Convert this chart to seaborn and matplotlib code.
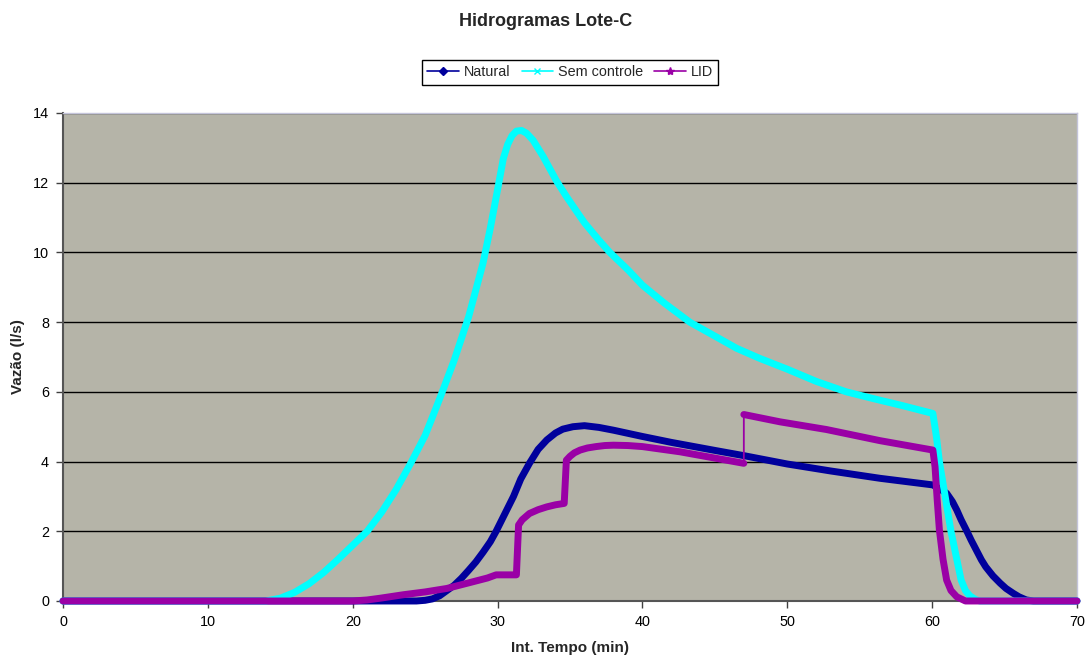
import matplotlib
matplotlib.use("Agg")
import numpy as np
import pandas as pd
import seaborn as sns
import matplotlib.pyplot as plt
from matplotlib.lines import Line2D

# ---------------- data ----------------
series_names = ["Natural", "Sem controle", "LID"]

natural_t = [0, 24.4, 25.0, 25.5, 26.0, 26.5, 27.0, 27.5, 28.0, 28.5, 29.0, 29.5, 29.9,
             30.5, 31.1, 31.6, 32.2, 32.8, 33.4, 34.0, 34.5, 35.2, 36.0, 37.0,
             38.0, 40.0, 42.0, 45.0, 47.0, 50.0, 53.0, 56.4, 60.05, 60.5, 61.0, 61.4,
             61.7, 62.0, 62.4, 62.7, 63.1, 63.4, 63.7, 64.2, 64.7, 65.1, 65.6, 66.0,
             66.5, 67.0, 70]
natural_q = [0, 0, 0.02, 0.06, 0.15, 0.3, 0.45, 0.65, 0.88, 1.12, 1.4, 1.7, 2.0,
             2.5, 3.0, 3.5, 3.95, 4.35, 4.62, 4.82, 4.93, 5.0, 5.03, 4.98,
             4.9, 4.72, 4.55, 4.32, 4.17, 3.93, 3.73, 3.52, 3.33, 3.22, 3.09, 2.85,
             2.61, 2.33, 2.0, 1.74, 1.42, 1.18, 0.98, 0.72, 0.51, 0.36, 0.22, 0.12,
             0.03, 0.0, 0]

sem_t = [0, 14.0, 15.0, 16.0, 17.0, 18.0, 19.0, 20.0, 21.0, 22.0, 23.0, 24.0, 25.0,
         26.0, 27.0, 28.0, 29.0, 29.5, 30.0, 30.4, 30.7, 31.0, 31.3, 31.65, 32.0,
         32.45, 33.15, 34.07, 34.76, 35.5, 36.0, 37.0, 37.75, 39.0, 40.0, 41.5,
         43.27, 45.0, 46.5, 48.1, 50.0, 52.0, 54.08, 56.0, 58.0, 60.05, 60.3, 60.5,
         60.9, 61.3, 61.7, 62.0, 62.3, 62.6, 63.0, 63.3, 70]
sem_q = [0, 0, 0.08, 0.25, 0.5, 0.82, 1.2, 1.6, 2.0, 2.55, 3.2, 3.95, 4.75,
         5.8, 6.9, 8.15, 9.7, 10.7, 11.8, 12.7, 13.1, 13.35, 13.48, 13.5, 13.42,
         13.22, 12.75, 12.05, 11.6, 11.15, 10.85, 10.35, 10.0, 9.5, 9.06, 8.55,
         8.0, 7.6, 7.25, 6.96, 6.65, 6.3, 6.0, 5.8, 5.6, 5.38, 4.7, 4.0,
         3.0, 2.0, 1.2, 0.6, 0.3, 0.15, 0.04, 0.0, 0]

lid1_t = [0, 20.0, 21.0, 21.9, 23.5, 25.0, 26.5, 28.0, 29.3, 29.9, 31.3, 31.45, 31.7,
          32.2, 32.8, 33.4, 34.0, 34.6, 34.75, 35.0, 35.3, 35.7, 36.2, 36.8, 37.4,
          38.0, 39.0, 40.0, 42.6, 45.0, 47.0]
lid1_q = [0, 0, 0.03, 0.08, 0.18, 0.26, 0.36, 0.52, 0.66, 0.75, 0.75, 2.18, 2.33,
          2.51, 2.62, 2.7, 2.76, 2.8, 4.04, 4.15, 4.25, 4.33, 4.39, 4.43, 4.46,
          4.47, 4.46, 4.43, 4.28, 4.1, 3.95]
lid2_t = [47.0, 49.5, 52.7, 56.4, 60.05, 60.2, 60.35, 60.5, 60.75, 61.0, 61.3, 61.7,
          62.3, 70]
lid2_q = [5.35, 5.14, 4.92, 4.6, 4.33, 3.85, 2.9, 2.04, 1.2, 0.6, 0.3, 0.12,
          0.0, 0]

colors = {"Natural": "#00009C", "Sem controle": "#00FFFF", "LID": "#9A00A6"}

x_ticks = [0, 10, 20, 30, 40, 50, 60, 70]
y_ticks = [0, 2, 4, 6, 8, 10, 12, 14]

# ---------------- build table ----------------
parts = [
    pd.DataFrame({"t": natural_t, "q": natural_q, "serie": "Natural", "trecho": "N1"}),
    pd.DataFrame({"t": sem_t, "q": sem_q, "serie": "Sem controle", "trecho": "S1"}),
    pd.DataFrame({"t": lid1_t, "q": lid1_q, "serie": "LID", "trecho": "L1"}),
    pd.DataFrame({"t": lid2_t, "q": lid2_q, "serie": "LID", "trecho": "L2"}),
]
df = pd.concat(parts, ignore_index=True)

# ---------------- style ----------------
sns.set_style("white")
plt.rcParams["font.family"] = ["Liberation Sans", "DejaVu Sans"]

W, H = 1085, 660
fig = plt.figure(figsize=(W / 100, H / 100), dpi=100)
ax = fig.add_axes([63 / W, (H - 601) / H, (1077 - 63) / W, (601 - 113) / H])
ax.set_facecolor("#B5B4A8")

sns.lineplot(data=df, x="t", y="q", hue="serie", units="trecho", estimator=None,
             hue_order=series_names, palette=colors, linewidth=5.0,
             legend=False, ax=ax, sort=True)
sns.lineplot(data=df[df["serie"] == "LID"], x="t", y="q", estimator=None,
             color=colors["LID"], linewidth=1.3, legend=False, ax=ax, sort=True)

for ln in ax.lines:
    ln.set_clip_on(False)
    ln.set_solid_joinstyle("round")
    ln.set_solid_capstyle("round")
    ln.set_zorder(3)

ax.set_xlim(0, 70)
ax.set_ylim(0, 14)
ax.set_xticks(x_ticks)
ax.set_yticks(y_ticks)
ax.set_xticklabels([str(v) for v in x_ticks])
ax.set_yticklabels([str(v) for v in y_ticks])
ax.grid(axis="y", color="black", linewidth=1.0)
ax.grid(axis="x", visible=False)
ax.set_axisbelow(True)

ax.tick_params(axis="both", direction="out", length=5, width=1, color="#404040",
               labelsize=10.4, labelcolor="black", pad=5)
ax.tick_params(axis="both", which="both", bottom=True, left=True)

for s in ["left", "bottom"]:
    ax.spines[s].set_color("#555555")
    ax.spines[s].set_linewidth(1.5)
for s in ["top", "right"]:
    ax.spines[s].set_color("#C4C4DA")
    ax.spines[s].set_linewidth(1.0)

ax.set_xlabel("")
ax.set_ylabel("")
fig.text(570 / W, 1 - 648 / H, "Int. Tempo (min)", ha="center", va="center",
         fontsize=11, fontweight="bold")
fig.text(18 / W, 1 - 357 / H, "Vazão (l/s)", ha="center", va="center",
         rotation=90, fontsize=11, fontweight="bold")
fig.text(545.5 / W, 1 - 22 / H, "Hidrogramas Lote-C", ha="center", va="center",
         fontsize=13, fontweight="bold")

handles = [
    Line2D([0], [0], color=colors["Natural"], lw=1.2, marker="D", markersize=4),
    Line2D([0], [0], color=colors["Sem controle"], lw=1.2, marker="x", markersize=5),
    Line2D([0], [0], color=colors["LID"], lw=1.2, marker="*", markersize=6),
]
leg = fig.legend(handles, series_names, loc="center", ncol=3,
                 bbox_to_anchor=(570 / W, 1 - 72.5 / H), frameon=True, fancybox=False,
                 framealpha=1, edgecolor="black", fontsize=10.4, handlelength=2.2,
                 handletextpad=0.3, columnspacing=0.8, borderpad=0.35)
leg.get_frame().set_linewidth(1.0)

fig.savefig("out.png", dpi=100, facecolor="white")
